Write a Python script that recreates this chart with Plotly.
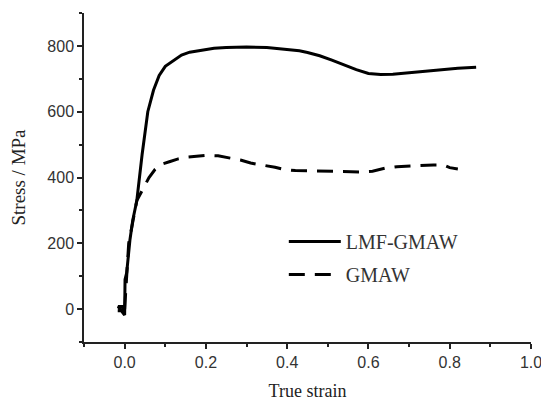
import plotly.graph_objects as go

# LMF-GMAW (solid) true strain / stress values
lmf_strain = [-0.017, -0.004, -0.004, -0.016, 0.0, 0.001, 0.005, 0.010, 0.013, 0.020,
              0.030, 0.043, 0.057, 0.071, 0.085, 0.100, 0.120, 0.140, 0.160, 0.190,
              0.220, 0.250, 0.300, 0.350, 0.400, 0.430, 0.450, 0.480, 0.510, 0.540,
              0.570, 0.600, 0.630, 0.660, 0.700, 0.740, 0.780, 0.820, 0.865]
lmf_stress = [-5, -5, 8, 8, -18, 90, 110, 190, 210, 270,
              330, 470, 600, 665, 710, 738, 755, 772, 781, 788,
              793, 795, 797, 795, 790, 785, 780, 770, 757, 742,
              728, 716, 713, 714, 719, 724, 729, 732, 735]

# GMAW (dashed)
gmaw_strain = [0.0, 0.010, 0.030, 0.045, 0.060, 0.075, 0.090, 0.110, 0.130, 0.155,
               0.180, 0.200, 0.230, 0.260, 0.285, 0.310, 0.340, 0.370, 0.395, 0.420,
               0.460, 0.500, 0.540, 0.580, 0.610, 0.640, 0.670, 0.700, 0.730, 0.760,
               0.785, 0.800, 0.820]
gmaw_stress = [0, 200, 330, 365, 400, 425, 440, 448, 456, 462,
               465, 467, 466, 460, 453, 444, 438, 431, 424, 421,
               420, 419, 417, 417, 419, 428, 433, 435, 438, 438,
               438, 430, 426]

serif = "Liberation Serif, Times New Roman, serif"
sans = "Liberation Sans, Arial, sans-serif"

fig = go.Figure()
fig.add_trace(go.Scatter(x=lmf_strain, y=lmf_stress, mode="lines", name="LMF-GMAW",
                         legendgroup="a",
                         line=dict(color="black", width=3)))
fig.add_trace(go.Scatter(x=gmaw_strain, y=gmaw_stress, mode="lines", name="GMAW",
                         legendgroup="b",
                         line=dict(color="black", width=3, dash="16px,10px")))

axis_common = dict(showline=True, linecolor="#222", linewidth=1.5, ticks="outside",
                   ticklen=5, tickwidth=1.5, tickcolor="#222", showgrid=False,
                   zeroline=False, mirror=False, automargin=False,
                   ticklabeloverflow="allow",
                   tickfont=dict(family=sans, size=16, color="#333"))

fig.update_xaxes(range=[-0.1, 1.0], dtick=0.2, tick0=0, tickformat=".1f",
                 minor=dict(ticks="outside", ticklen=3, dtick=0.1, tick0=0,
                            tickcolor="#222", tickwidth=1.5),
                 title=dict(text="True strain", font=dict(family=serif, size=18, color="#222"),
                            standoff=15),
                 **axis_common)
fig.update_yaxes(range=[-100, 900], dtick=200, tick0=0,
                 minor=dict(ticks="outside", ticklen=3, dtick=100, tick0=0,
                            tickcolor="#222", tickwidth=1.5),
                 title=dict(text="Stress / MPa", font=dict(family=serif, size=19, color="#222"),
                            standoff=17),
                 **axis_common)

fig.update_layout(
    width=541, height=401,
    margin=dict(l=84, r=10, t=13, b=59),
    paper_bgcolor="white", plot_bgcolor="white",
    showlegend=True,
    legend=dict(x=0.447, y=0.255, xanchor="left", yanchor="middle", itemwidth=52,
                bgcolor="rgba(0,0,0,0)", tracegroupgap=4,
                font=dict(family=serif, size=20, color="#333")),
)

# drop the browser's default 8px body margin so the figure fills the window
fig.write_html("out.html", config={"displayModeBar": False},
               post_script="document.body.style.margin='0';")
